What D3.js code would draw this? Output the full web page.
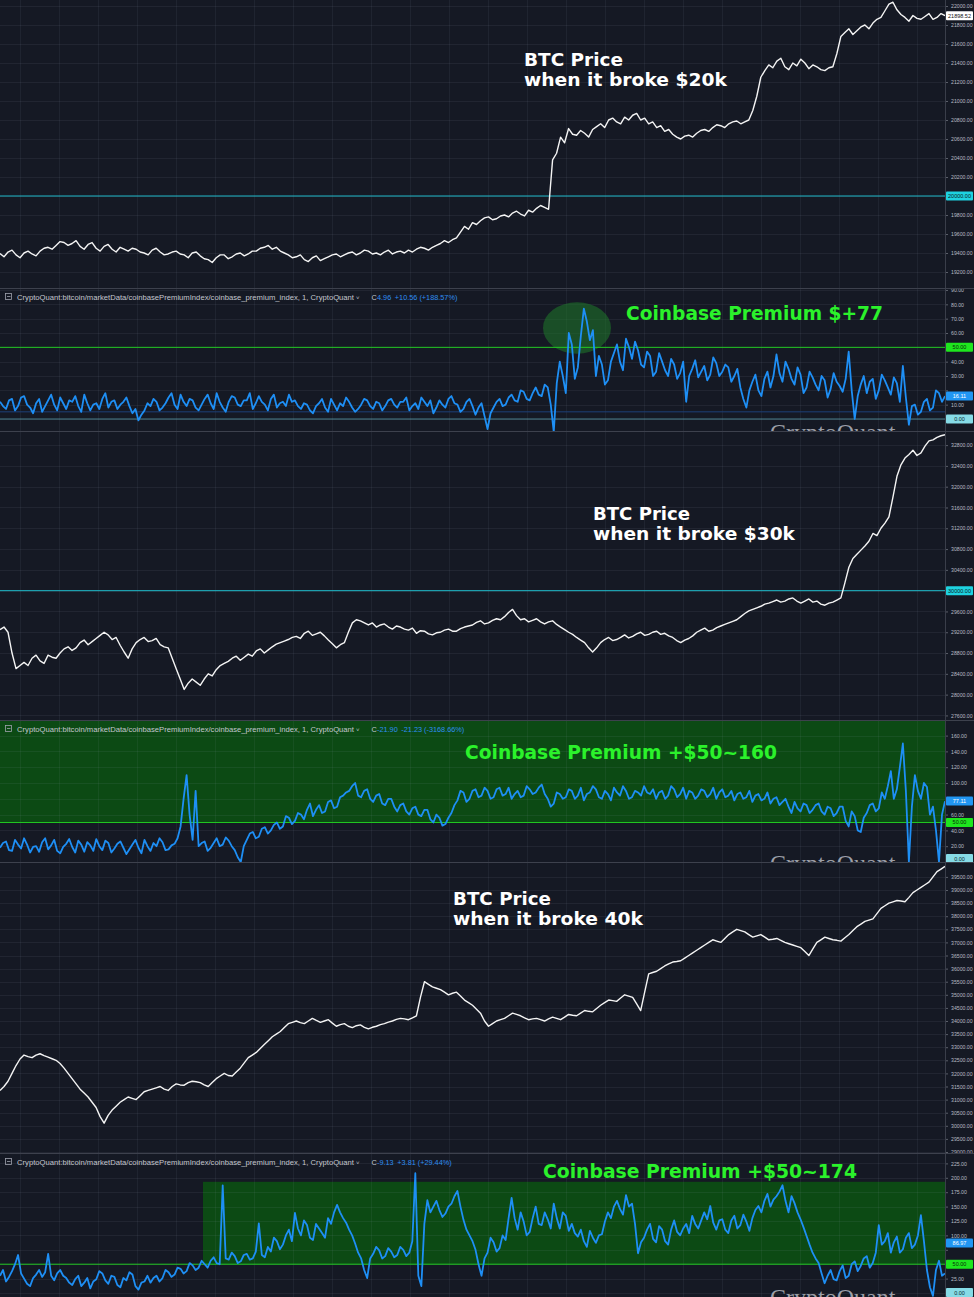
<!DOCTYPE html>
<html><head><meta charset="utf-8">
<script src="https://cdn.jsdelivr.net/npm/d3@7"></script>
<style>
html,body{margin:0;padding:0;background:#151924;}
svg{display:block;}
</style></head><body>
<svg id="c" width="974" height="1297"></svg>
<script>
// ---------------- DATA ----------------
const price20k = [19395,19360,19410,19430,19380,19350,19400,19420,19390,19370,19420,19450,19460,19440,19480,19520,19510,19480,19500,19530,19470,19440,19490,19510,19450,19420,19470,19490,19440,19410,19460,19440,
19420,19450,19440,19410,19400,19380,19430,19450,19410,19380,19390,19410,19420,19390,19380,19350,19400,19410,19370,19340,19330,19300,19350,19380,19380,19340,19360,19390,19400,19370,19390,19420,19420,19450,
19460,19480,19440,19460,19420,19400,19380,19350,19360,19380,19330,19310,19350,19370,19320,19340,19360,19380,19390,19360,19380,19400,19410,19380,19400,19430,19420,19390,19400,19380,19410,19430,19390,19410,19420,19400,
19430,19410,19440,19460,19450,19430,19460,19480,19500,19530,19510,19540,19560,19620,19680,19650,19720,19700,19740,19770,19780,19750,19760,19790,19800,19780,19820,19840,19810,19790,19850,19830,19870,19900,19880,19860,
20380,20450,20620,20560,20710,20650,20640,20690,20660,20620,20700,20730,20760,20720,20800,20820,20780,20760,20830,20800,20850,20870,20800,20820,20760,20780,20720,20740,20680,20700,20650,20620,20600,20630,
20640,20620,20660,20690,20700,20680,20720,20750,20740,20720,20760,20780,20790,20760,20780,20800,20900,21050,21250,21320,21380,21350,21420,21450,21360,21330,21400,21370,21440,21400,21340,21380,21360,21330,21320,21350,21360,21500,
21680,21720,21760,21700,21740,21780,21800,21760,21820,21860,21880,21950,22020,22040,21960,21910,21880,21840,21900,21870,21860,21890,21920,21860,21880,21920,21898.52];

const premium1 = [12,9,7,13,14,6,9,15,16,10,8,4,11,14,5,9,13,17,10,6,15,11,7,13,12,16,9,5,17,11,6,10,11,7,14,18,8,12,13,7,10,12,15,9,
4,7,-1,3,6,11,9,14,
12,6,8,11,15,18,10,7,17,12,9,14,13,8,6,10,14,17,11,7,18,12,8,5,12,16,15,10,9,13,13,18,7,11,16,12,10,6,14,17,8,11,12,9,17,12,
13,9,7,11,10,6,4,9,11,14,8,5,14,10,6,11,9,15,12,8,5,7,10,14,13,9,7,12,11,6,9,13,14,10,8,12,
12,15,6,9,11,7,15,12,9,13,4,8,13,10,8,14,16,11,10,5,7,12,14,9,3,8,11,2,
-7,4,
8,12,14,9,10,15,17,13,12,20,19,14,13,18,22,17,16,24,
22,10,-9,25,40,30,18,60,52,28,36,58,77,68,55,62,30,44,38,24,27,40,46,52,40,34,56,50,42,54,48,38,36,47,44,30,33,46,40,34,30,42,38,28,32,40,12,30,35,41,29,33,37,27,31,43,39,30,33,38,
36,26,30,35,22,14,8,20,26,31,20,16,28,33,22,30,45,32,26,40,35,28,24,36,31,18,22,33,29,24,20,30,27,15,21,32,26,23,19,28,47,20,0,16,24,30,18,26,28,14,20,31,27,22,17,29,25,12,37,15,
-4,9,10,3,5,12,14,6,8,20,18,12,16];

const price30k = [29250,29300,29200,28800,28500,28560,28620,28560,28700,28760,28650,28600,28760,28720,28700,28800,28880,28920,28850,28900,29000,29050,28960,29020,29080,29140,29200,29150,29060,29100,28950,28820,
28700,28880,29000,29060,29100,29020,29040,29080,28960,28920,28900,28700,28500,28300,28100,28220,28300,28240,28180,28300,28400,28360,28480,28560,28600,28640,28700,28740,28660,28720,28780,28740,28840,28880,
28800,28860,28920,28970,29000,29030,29060,29100,29120,29080,29180,29220,29140,29170,29200,29130,29050,28980,28900,28960,29000,29200,
29380,29440,29420,29380,29340,29380,29300,29340,29360,29300,29260,29320,29300,29260,29240,29280,29180,29230,29220,29170,29150,29190,29200,29240,29260,29220,29220,29270,29300,29320,29340,29390,29420,29360,
29380,29430,29460,29440,29500,29580,29640,29520,29440,29460,29400,29430,29460,29400,29360,29400,29420,29350,29300,29250,29200,29160,29100,29050,29000,28900,28820,28900,29000,29060,29100,29040,29060,29100,
29150,29090,29120,29170,29200,29140,29160,29200,29220,29160,29180,29130,29100,29040,29000,29050,29080,29130,29200,29240,29280,29220,29240,29290,29320,29350,29380,29410,29440,29500,29560,29610,29640,29670,
29700,29740,29760,29790,29820,29780,29800,29840,29860,29800,29760,29800,29840,29780,29800,29740,29720,29760,29780,29820,29860,30150,
30450,30620,30700,30780,30860,30950,31100,31060,31200,31300,31420,31800,32200,32420,32550,32620,32700,32600,32650,32780,32880,32900,32950,32980,33000];

const premium2 = [18,24,26,15,14,28,22,17,30,22,12,19,20,13,25,30,16,21,28,14,11,19,23,29,19,12,27,22,13,25,21,14,29,20,15,27,24,12,17,23,26,18,10,16,22,28,18,11,28,20,14,24,20,30,25,15,16,21,23,30,
45,80,110,60,28,90,20,24,
26,14,18,24,30,20,22,31,27,20,15,6,
0,20,
28,36,38,30,32,42,44,36,40,47,50,42,45,58,56,48,52,62,60,54,
66,74,58,66,72,62,64,76,78,68,70,82,84,88,
90,96,100,84,82,90,92,80,76,84,86,74,
72,80,80,70,64,72,74,64,60,68,70,60,58,66,66,54,
50,60,56,46,48,56,62,72,
78,90,88,76,80,90,92,82,84,94,90,80,82,92,94,84,86,94,80,86,90,82,84,96,92,86,88,94,98,86,
80,70,74,88,86,80,
82,92,90,80,84,94,78,86,88,96,92,82,80,90,86,78,94,88,84,96,90,80,82,90,88,84,96,88,86,92,80,88,90,80,84,96,92,82,86,94,80,90,88,80,84,92,90,82,
86,94,80,88,92,82,84,90,78,86,88,80,82,90,76,84,86,78,80,88,74,80,82,72,76,80,
70,62,76,68,64,74,72,62,66,72,74,64,60,70,68,58,62,70,70,52,
45,64,58,40,38,56,
62,72,74,64,68,88,80,96,
115,80,92,120,150,90,0,70,110,90,80,100,95,60,70,40,0,60,77];

const price40k = [31350,31500,31700,32000,32300,32550,32700,32640,32600,32700,32750,32680,32620,32560,32500,32380,32200,32000,31800,31600,31400,31250,31100,30900,30700,30350,30100,30400,30600,30750,30900,31000,
31100,31050,31000,31150,31300,31350,31400,31450,31500,31400,31350,31500,31600,31560,31550,31650,31700,31680,31650,31560,31500,31650,31800,31900,32000,31920,31900,32050,32200,32400,32600,32700,32800,32950,
33100,33250,33400,33500,33600,33750,33900,33950,34000,33940,33900,34000,34100,34020,33950,34000,34050,33920,33800,33860,33900,33800,33750,33820,33850,33760,33700,33760,33800,33860,33900,33960,34000,34060,
34100,34080,34050,34120,34200,34900,
35500,35400,35300,35250,35200,35100,35000,35060,35100,34950,34800,34700,34600,34450,34300,34000,33800,33900,34000,34050,34100,34200,34300,34250,34200,34120,34050,34080,34100,34050,34000,34080,34150,34100,
34050,34150,34250,34220,34200,34300,34400,34370,34350,34480,34600,34700,34800,34780,34750,34880,35000,34950,34900,34650,34400,35100,35800,35850,35900,36000,36100,36180,36250,36270,36300,36400,36500,36600,
36700,36800,36900,37000,37100,37050,37000,37150,37300,37400,37500,37450,37400,37300,37200,37250,37300,37200,37100,37120,37150,37080,37000,36950,36900,36850,36800,36650,36500,36750,37000,37100,37200,37150,
37100,37080,37050,37180,37300,37450,37600,37700,37800,37850,37900,38100,38300,38400,38500,38550,38600,38580,38550,38720,38900,39000,39100,39200,39300,39500,39700,39800,39900];

const premium3 = [30,40,20,28,38,50,66,34,25,16,12,26,32,40,28,36,68,30,22,34,40,30,
26,18,14,24,30,12,18,26,8,20,24,38,34,22,16,30,28,14,10,26,22,36,32,12,6,18,20,30,
18,26,30,20,26,40,36,28,32,44,42,34,38,52,48,40,44,56,
50,44,56,62,52,50,
187,60,
58,70,64,52,55,66,68,58,60,72,121,66,62,80,
72,96,90,76,84,100,110,90,139,112,
100,126,118,96,92,120,112,104,96,130,120,140,
153,140,
130,122,110,100,86,70,60,40,
26,60,
68,80,74,60,64,78,72,62,66,80,75,64,70,90,
208,30,12,120,
161,140,150,160,144,132,138,150,155,168,
177,150,
127,110,100,90,75,50,
30,60,
70,96,88,72,78,100,92,130,165,130,
110,140,124,100,106,130,150,120,118,140,128,112,155,130,112,140,134,108,120,104,
98,110,90,80,108,96,87,100,102,124,
140,130,150,160,146,136,170,150,155,120,
69,88,
96,110,120,94,88,116,110,90,84,110,126,106,100,112,
120,104,134,120,112,126,140,128,151,122,
110,126,128,110,104,126,134,112,118,136,124,108,130,144,
151,140,160,172,150,162,168,176,187,160,
140,168,156,140,128,114,
99,84,70,60,52,34,
17,30,40,24,22,38,48,26,30,50,
55,38,47,60,64,44,52,70,
118,84,
90,104,70,88,98,70,76,96,104,78,84,100,
135,90,
40,10,-5,40,56,30,34];

const price20kTicks = [19200,19400,19600,19800,20000,20200,20400,20600,20800,21000,21200,21400,21600,21800,22000];
const premium1Ticks = [0,10,20,30,40,50,60,70,80,90];
const price30kTicks = [27600,28000,28400,28800,29200,29600,30000,30400,30800,31200,31600,32000,32400,32800];
const premium2Ticks = [0,20,40,60,80,100,120,140,160];
const price40kTicks = [29000,29500,30000,30500,31000,31500,32000,32500,33000,33500,34000,34500,35000,35500,36000,36500,37000,37500,38000,38500,39000,39500];
const premium3Ticks = [0,25,50,75,100,125,150,175,200,225];

const priceNotes = ["when it broke $20k","when it broke $30k","when it broke 40k"];
const premiumNotes = ["Coinbase Premium $+77","Coinbase Premium +$50~160","Coinbase Premium +$50~174"];
const headerChange = [["4.96","+10.56 (+188.57%)"],["-21.90","-21.23 (-3168.66%)"],["-9.13","+3.81 (+29.44%)"]];
const lastPremium = [16.11, 77.11, 86.97];

// ---------------- LAYOUT ----------------
const W = 974, H = 1297, PW = 945;
const svg = d3.select('#c');
svg.append('rect').attr('width',W).attr('height',H).attr('fill','#151924');
const defs = svg.append('defs');
const FONT = "'Liberation Sans', Arial, sans-serif";
const BOLD = "'DejaVu Sans', Verdana, sans-serif";

const panels = [
 {id:1, kind:'price', top:0, bottom:288, domain:[19031.6,22063.2], data:price20k, ticks:price20kTicks, ref:20000, refLabel:'20000.00', last:'21898.52'},
 {id:2, kind:'prem', top:289, bottom:432, domain:[-9.07,90.7], data:premium1, ticks:premium1Ticks, k:0},
 {id:3, kind:'price', top:432, bottom:720, domain:[27512,33052], data:price30k, ticks:price30kTicks, ref:30000, refLabel:'30000.00'},
 {id:4, kind:'prem', top:721, bottom:863, domain:[-1.3,178.5], data:premium2, ticks:premium2Ticks, k:1},
 {id:5, kind:'price', top:863, bottom:1153, domain:[28962,40031], data:price40k, ticks:price40kTicks},
 {id:6, kind:'prem', top:1154, bottom:1297, domain:[-6.9,241.3], data:premium3, ticks:premium3Ticks, k:2},
];

const gridX = d3.range(20, PW, 39);
const fmt = d3.format('.2f');

function tag(g, yv, text, fill, color){
  g.append('rect').attr('x',PW+1).attr('y',yv-4.5).attr('width',27).attr('height',9).attr('fill',fill).attr('rx',1);
  g.append('text').attr('x',PW+14.5).attr('y',yv+2).attr('text-anchor','middle')
   .attr('font-family',FONT).attr('font-size',5.5).attr('fill',color).text(text);
}

panels.forEach(p=>{
  const g = svg.append('g');
  defs.append('clipPath').attr('id','clip'+p.id).append('rect')
    .attr('x',0).attr('y',p.top).attr('width',PW).attr('height',p.bottom-p.top);
  const n = p.data.length-1;
  const x = d3.scaleLinear().domain([0,n]).range([0,PW]);
  const y = d3.scaleLinear().domain(p.domain).range([p.bottom,p.top]);
  const plot = g.append('g').attr('clip-path',`url(#clip${p.id})`);

  if(p.kind==='prem' && p.k===1){
    plot.append('rect').attr('x',x(0)).attr('y',y(p.domain[1])).attr('width',x(n)-x(0))
      .attr('height',y(50)-y(p.domain[1])).attr('fill','#0c4a14');
  }
  if(p.kind==='prem' && p.k===2){
    const from = n*0.2148;
    plot.append('rect').attr('x',x(from)).attr('y',y(193)).attr('width',x(n)-x(from))
      .attr('height',y(50)-y(193)).attr('fill','#0c4a14');
  }

  plot.selectAll('line.hg').data(p.ticks).join('line').attr('class','hg')
    .attr('x1',0).attr('x2',PW).attr('y1',d=>Math.round(y(d))+0.5).attr('y2',d=>Math.round(y(d))+0.5)
    .attr('stroke','#9aa4c0').attr('stroke-opacity',0.09);
  plot.selectAll('line.vg').data(gridX).join('line').attr('class','vg')
    .attr('x1',d=>d+0.5).attr('x2',d=>d+0.5).attr('y1',p.top).attr('y2',p.bottom)
    .attr('stroke','#9aa4c0').attr('stroke-opacity',0.08);

  const tagYs = [];
  if(p.kind==='price'){
    if(p.ref){
      plot.append('line').attr('x1',0).attr('x2',PW).attr('y1',y(p.ref)).attr('y2',y(p.ref))
        .attr('stroke','#1fb8c8').attr('stroke-width',1);
    }
    plot.append('path').datum(p.data)
      .attr('d',d3.line().x((d,i)=>x(i)).y(d=>y(d)))
      .attr('fill','none').attr('stroke','#f4f4f4').attr('stroke-width',1.4).attr('stroke-linejoin','round');
  } else {
    if(p.k===0){
      plot.append('line').attr('x1',0).attr('x2',PW).attr('y1',y(5)).attr('y2',y(5))
        .attr('stroke','#1d3f78').attr('stroke-width',1);
      plot.append('line').attr('x1',0).attr('x2',PW).attr('y1',y(0)).attr('y2',y(0))
        .attr('stroke','#6cc3cf').attr('stroke-opacity',0.6).attr('stroke-width',1);
      const c = n*0.6106, half = n*0.036;
      plot.append('ellipse').attr('cx',x(c)).attr('cy',y(63.5))
        .attr('rx',x(c+half)-x(c)).attr('ry',y(45.5)-y(63.5))
        .attr('fill','#1f7a2a').attr('fill-opacity',0.55);
    }
    plot.append('line').attr('x1',0).attr('x2',PW).attr('y1',y(50)).attr('y2',y(50))
      .attr('stroke','#22c822').attr('stroke-width',1);
    plot.append('path').datum(p.data)
      .attr('d',d3.line().x((d,i)=>x(i)).y(d=>y(d)))
      .attr('fill','none').attr('stroke','#1e8ff5').attr('stroke-width',1.8).attr('stroke-linejoin','round');
    plot.append('text').attr('x',770).attr('y',p.bottom+8).attr('font-family',"'Liberation Serif','DejaVu Serif',serif")
      .attr('font-size',24).attr('fill','#c9ccd4').attr('fill-opacity',0.75).text('CryptoQuant');
    const hy = p.top+11;
    g.append('rect').attr('x',5.5).attr('y',hy-6.5).attr('width',6).attr('height',6).attr('fill','none')
      .attr('stroke','#9ea2ad').attr('stroke-width',0.8);
    g.append('line').attr('x1',7).attr('x2',10.5).attr('y1',hy-3.5).attr('y2',hy-3.5).attr('stroke','#9ea2ad').attr('stroke-width',0.8);
    g.append('text').attr('x',17).attr('y',hy).attr('font-family',FONT).attr('font-size',7.3).attr('fill','#c3c6ce')
      .attr('textLength',337).attr('lengthAdjust','spacingAndGlyphs')
      .text('CryptoQuant:bitcoin/marketData/coinbasePremiumIndex/coinbase_premium_index, 1, CryptoQuant');
    g.append('text').attr('x',356).attr('y',hy-0.5).attr('font-family',FONT).attr('font-size',6).attr('fill','#c3c6ce').text('˅');
    g.append('text').attr('x',371.5).attr('y',hy).attr('font-family',FONT).attr('font-size',7.3).attr('fill','#c3c6ce').text('C');
    const hc = headerChange[p.k];
    g.append('text').attr('x',377).attr('y',hy).attr('font-family',FONT).attr('font-size',7.3).attr('fill','#2f8ef0')
      .text(hc[0] + '\u2002' + hc[1]);
  }

  if(p.kind==='price'){
    if(p.ref) tagYs.push(y(p.ref));
    if(p.last) tagYs.push(y(p.data[n]));
  } else {
    tagYs.push(y(50), y(lastPremium[p.k]), y(0));
  }

  const ax = g.append('g').attr('transform',`translate(${PW},0)`)
    .call(d3.axisRight(y).tickValues(p.ticks).tickFormat(fmt).tickSize(3).tickPadding(3));
  ax.select('.domain').remove();
  ax.selectAll('text').attr('fill','#b8bbc4').attr('font-size',5.2).attr('font-family',FONT);
  ax.selectAll('line').attr('stroke','#5a5e69');
  ax.selectAll('.tick').filter(d=>tagYs.some(t=>Math.abs(y(d)-t)<7)).select('text').remove();

  if(p.kind==='price'){
    if(p.ref) tag(g, y(p.ref), p.refLabel, '#1ed2e0', '#0b1a20');
    if(p.last) tag(g, y(p.data[n]), p.last, '#ffffff', '#111');
  } else {
    tag(g, y(50), '50.00', '#1ee61e', '#0a2a0a');
    tag(g, y(lastPremium[p.k]), fmt(lastPremium[p.k]), '#2196f3', '#ffffff');
    tag(g, Math.min(y(0), p.bottom-4.5), '0.00', '#86dbe6', '#0b2a30');
  }

  if(p.kind==='price'){
    const idx = (p.id-1)/2;
    const pos = [[524,67],[593,521],[453,906]][idx];
    const lens = [[99,203],[97,202],[98,190]][idx];
    g.append('text').attr('x',pos[0]).attr('y',pos[1]-1).attr('font-family',BOLD).attr('font-weight','bold')
      .attr('font-size',17).attr('fill','#ffffff').attr('textLength',lens[0]).attr('lengthAdjust','spacingAndGlyphs').text('BTC Price');
    g.append('text').attr('x',pos[0]).attr('y',pos[1]+19).attr('font-family',BOLD).attr('font-weight','bold')
      .attr('font-size',17).attr('fill','#ffffff').attr('textLength',lens[1]).attr('lengthAdjust','spacingAndGlyphs').text(priceNotes[idx]);
  } else {
    const pos = [[626,320],[465,759],[543,1178]][p.k];
    const lens = [257,312,314][p.k];
    g.append('text').attr('x',pos[0]).attr('y',pos[1]).attr('font-family',BOLD).attr('font-weight','bold')
      .attr('font-size',18.6).attr('fill','#2bf22b').attr('textLength',lens).attr('lengthAdjust','spacingAndGlyphs').text(premiumNotes[p.k]);
  }
});

svg.append('line').attr('x1',PW+0.5).attr('x2',PW+0.5).attr('y1',0).attr('y2',H).attr('stroke','#3a3e4a').attr('stroke-width',1);
svg.selectAll('line.sep').data(panels.slice(1)).join('line').attr('class','sep')
  .attr('x1',0).attr('x2',W).attr('y1',d=>d.top-0.5).attr('y2',d=>d.top-0.5)
  .attr('stroke','#3d414d').attr('stroke-width',1);
</script>
</body></html>
